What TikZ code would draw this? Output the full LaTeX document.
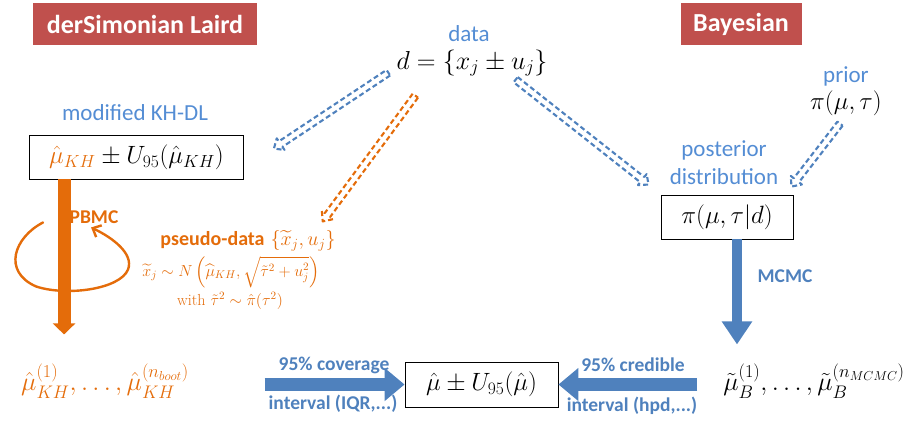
\RequirePackage{fix-cm}
\documentclass[tikz,border=0pt]{standalone}
\usepackage{amsmath}
\usepackage{fontspec}
\newfontfamily\carlito{Carlito}
\usetikzlibrary{calc,arrows.meta}

\definecolor{hdrred}{HTML}{C0504D}
\definecolor{lblue}{HTML}{548DD4}
\definecolor{ablue}{HTML}{4F81BD}
\definecolor{dorange}{HTML}{E46C0A}

% outlined, dashed block arrow from #1 to #2 in colour #3
\newcommand\hollowarrow[3]{%
  \coordinate (ha-a) at (#1);
  \coordinate (ha-b) at (#2);
  \coordinate (ha-h) at ($(ha-b)!8pt!(ha-a)$);
  \draw[#3, dashed, dash pattern=on 5pt off 3pt, line width=2.1pt, line join=round]
    ($(ha-a)!3.3pt!90:(ha-b)$) -- ($(ha-h)!3.3pt!90:(ha-b)$) -- ($(ha-h)!7pt!90:(ha-b)$)
    -- (ha-b) -- ($(ha-h)!7pt!-90:(ha-b)$) -- ($(ha-h)!3.3pt!-90:(ha-b)$)
    -- ($(ha-a)!3.3pt!-90:(ha-b)$) -- cycle;
}

\tikzset{
  hdr/.style={fill=hdrred, text=white, inner sep=0pt,
    font=\carlito\bfseries\fontsize{26}{30}\selectfont},
  lbl/.style={text=lblue, inner sep=0pt, font=\carlito\fontsize{23}{28}\selectfont},
  blbl/.style={text=ablue, inner sep=0pt, font=\carlito\bfseries\fontsize{19.5}{23}\selectfont},
  eq/.style={inner sep=0pt, font=\fontsize{25}{29}\selectfont},
  mbox/.style={draw=black, line width=0.9pt, inner sep=0pt, font=\fontsize{25}{29}\selectfont},
  otext/.style={text=dorange, inner sep=0pt},
  oarrow/.style={dorange, line width=13pt, -{Triangle[length=11pt,width=22pt]}},
  barrow/.style={ablue, line width=13pt, -{Triangle[length=20pt,width=32pt]}},
  varrow/.style={ablue, line width=10pt, -{Triangle[length=23pt,width=29pt]}},
}

\begin{document}
\begin{tikzpicture}[x=1pt,y=-1pt]
\useasboundingbox (0,0) rectangle (912,421);

% method headings
\node[hdr, minimum width=224pt, minimum height=42pt] (dsl) at (145,24) {derSimonian Laird};
\node[hdr, minimum width=121pt, minimum height=42pt] (bay) at (741,24) {Bayesian};

% data
\node[lbl] (datal) at (469,34) {data};
\node[eq, font=\fontsize{26}{30}\selectfont] (dset) at (472,63) {$d=\{x_j\pm u_j\}$};

% frequentist side
\node[lbl] (khdl) at (135,113) {modified KH-DL};
\node[mbox, minimum width=214pt, minimum height=44pt] (khbox) at (136.5,157)
  {$\textcolor{dorange}{\hat\mu_{KH}}\pm U_{95}(\hat\mu_{KH})$};
\node[otext, font=\carlito\bfseries\fontsize{19.5}{23}\selectfont] (pbmc) at (94,217) {PBMC};
\node[otext, font=\fontsize{20}{24}\selectfont] (pseudo) at (248,241)
  {{\carlito\bfseries pseudo-data} $\{\widetilde{x}_j,u_j\}$};
\node[otext, font=\fontsize{16}{19}\selectfont] (samp) at (231,272)
  {$\widetilde{x}_j\sim N\left(\widehat{\mu}_{KH},\sqrt{\tilde\tau^2+u_j^2}\right)$};
\node[otext, font=\fontsize{16}{19}\selectfont] (withl) at (230,301)
  {with $\tilde\tau^2\sim\hat\pi(\tau^2)$};
\node[otext, font=\fontsize{26}{30}\selectfont] (boot) at (105,381)
  {$\hat\mu_{KH}^{(1)},\dots,\hat\mu_{KH}^{(n_{boot})}$};

% Bayesian side
\node[lbl] (priorl) at (846,76) {prior};
\node[eq] (prior) at (846,103) {$\pi(\mu,\tau)$};
\node[lbl, align=center] (post) at (724,163) {posterior\\distribution};
\node[mbox, minimum width=132pt, minimum height=44pt] (pibox) at (727,217) {$\pi(\mu,\tau|d)$};
\node[blbl] (mcmcl) at (785,276) {MCMC};
\node[eq, font=\fontsize{26}{30}\selectfont] (mcmcs) at (814,381)
  {$\tilde\mu_B^{(1)},\dots,\tilde\mu_B^{(n_{MCMC})}$};

% common result
\node[mbox, minimum width=153pt, minimum height=45pt] (final) at (481.5,384.5)
  {$\hat\mu\pm U_{95}(\hat\mu)$};
\node[blbl] (cov1) at (334,365) {95\% coverage};
\node[blbl] (cov2) at (333,404) {interval (IQR,...)};
\node[blbl] (cred1) at (633,365) {95\% credible};
\node[blbl] (cred2) at (632,406) {interval (hpd,...)};

% free ends of the block arrows
\coordinate (pbtop) at ($(khbox.south west)+(35,0)$);
\coordinate (pbend) at ($(khbox.south west)+(35,155)$);
\coordinate (mctop) at ($(pibox.south)+(10,0)$);
\coordinate (mcend) at ($(pibox.south)+(10,105)$);
\coordinate (covtail) at ($(final.west)+(-140,0)$);
\coordinate (credtail) at ($(final.east)+(139,0)$);

% block arrows
\draw[oarrow] (pbtop) -- (pbend);
\draw[varrow] (mctop) -- (mcend);
\draw[barrow] (covtail) -- (final.west);
\draw[barrow] (credtail) -- (final.east);

% bootstrap loop around the PBMC arrow
\draw[dorange, line width=2.4pt, line cap=round, -{Straight Barb[length=7pt,width=13pt]}]
  ($(pbtop)+(-21,43)$) .. controls ($(pbtop)+(-50,58)$) and ($(pbtop)+(-62,92)$) .. ($(pbtop)+(-28,107)$)
  .. controls ($(pbtop)+(2,117)$) and ($(pbtop)+(56,110)$) .. ($(pbtop)+(64,90)$)
  .. controls ($(pbtop)+(70,74)$) and ($(pbtop)+(48,58)$) .. ($(pbtop)+(27,48)$);

% dashed data-flow arrows
\hollowarrow{$(dset.south west)+(-8,-4)$}{$(khbox.north east)+(30,14)$}{ablue}
\hollowarrow{$(dset.south west)+(19,19)$}{$(pseudo.north east)+(-13,-9)$}{dorange}
\hollowarrow{$(dset.south east)+(-32,3)$}{$(pibox.north west)+(-12,-10)$}{ablue}
\hollowarrow{$(prior.south)+(-6,8)$}{$(pibox.north east)+(-2,-8)$}{ablue}

\end{tikzpicture}
\end{document}
